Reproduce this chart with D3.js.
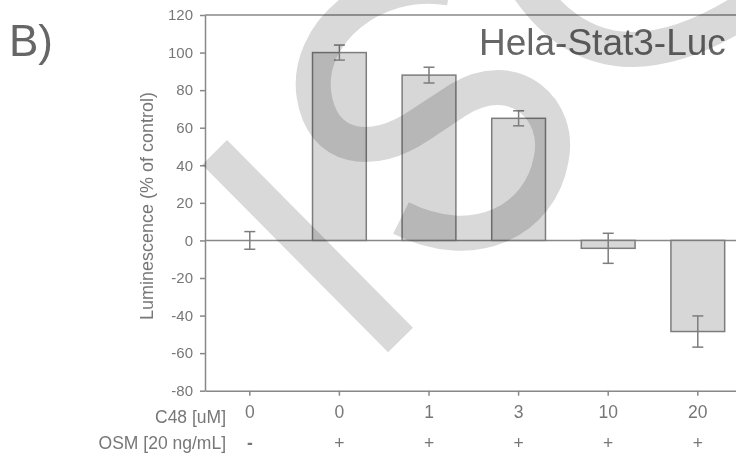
<!DOCTYPE html>
<html>
<head>
<meta charset="utf-8">
<script src="https://cdn.jsdelivr.net/npm/d3@7"></script>
<style>
  html, body { margin: 0; padding: 0; background: #fff; }
  svg { display: block; font-family: Arial, "Liberation Sans", sans-serif; }
</style>
</head>
<body>
<svg id="chart" width="736" height="456"></svg>
<script>
// ---- data ----
const c48Labels = ["0", "0", "1", "3", "10", "20"];
const osmLabels = ["-", "+", "+", "+", "+", "+"];
const values = [0, 100, 88, 65, -4.2, -48.5];
const errors = [4.7, 4, 4.2, 4, 8, 8.3];
const yTicks = [-80, -60, -40, -20, 0, 20, 40, 60, 80, 100, 120];
const yDomain = [-80, 120];
const rowLabels = ["C48 [uM]", "OSM [20 ng/mL]"];
const titleText = "Hela-Stat3-Luc";
const panelText = "B)";
const yLabelText = "Luminescence (% of control)";

// ---- layout ----
const svg = d3.select("#chart");
const plotL = 205, plotT = 15, plotB = 390.7, plotR = 742.6;
const axisColor = "#888", textColor = "#777";
const FONT = "Arial, 'Liberation Sans', sans-serif";

const x = d3.scaleBand()
  .domain(d3.range(values.length))
  .range([plotL, plotR])
  .paddingInner(0.4)
  .paddingOuter(0.2);

const y = d3.scaleLinear().domain(yDomain).range([plotB, plotT]);

// top frame line
svg.append("line")
  .attr("x1", plotL).attr("x2", plotR)
  .attr("y1", y(yDomain[1])).attr("y2", y(yDomain[1]))
  .attr("stroke", axisColor).attr("stroke-width", 1.5);

// zero line
svg.append("line")
  .attr("x1", plotL).attr("x2", plotR)
  .attr("y1", y(0)).attr("y2", y(0))
  .attr("stroke", axisColor).attr("stroke-width", 1.5);

// bars
svg.append("g").selectAll("rect")
  .data(values)
  .join("rect")
  .attr("x", (d, i) => x(i))
  .attr("width", x.bandwidth())
  .attr("y", d => y(Math.max(0, d)))
  .attr("height", d => Math.abs(y(d) - y(0)))
  .attr("fill", "#d7d7d7")
  .attr("stroke", "#7d7d7d")
  .attr("stroke-width", 1.5);

// error bars
const eg = svg.append("g").attr("stroke", "#7d7d7d").attr("stroke-width", 1.5).attr("fill", "none");
const cap = 5.5;
values.forEach((v, i) => {
  const cx = x(i) + x.bandwidth() / 2;
  const y1 = y(v + errors[i]), y2 = y(v - errors[i]);
  eg.append("line").attr("x1", cx).attr("x2", cx).attr("y1", y1).attr("y2", y2);
  eg.append("line").attr("x1", cx - cap).attr("x2", cx + cap).attr("y1", y1).attr("y2", y1);
  eg.append("line").attr("x1", cx - cap).attr("x2", cx + cap).attr("y1", y2).attr("y2", y2);
});

// y axis
const yAxis = svg.append("g")
  .attr("transform", `translate(${plotL},0)`)
  .call(d3.axisLeft(y).tickValues(yTicks).tickSize(5).tickSizeOuter(0).tickPadding(7)
    .tickFormat(d => String(d)));
yAxis.selectAll("path,line").attr("stroke", axisColor).attr("stroke-width", 1.5);
yAxis.selectAll("text").attr("fill", textColor).style("font-size", "15px").style("font-family", FONT);

// x axis
const xAxis = svg.append("g")
  .attr("transform", `translate(0,${plotB})`)
  .call(d3.axisBottom(x).tickSize(5).tickSizeOuter(0).tickPadding(10)
    .tickFormat(i => c48Labels[i]));
xAxis.selectAll("path,line").attr("stroke", axisColor).attr("stroke-width", 1.5);
xAxis.selectAll("text").attr("fill", textColor).style("font-size", "17.5px").style("font-family", FONT);

// OSM row
svg.append("g").selectAll("text")
  .data(osmLabels)
  .join("text")
  .attr("x", (d, i) => x(i) + x.bandwidth() / 2)
  .attr("y", 443)
  .attr("dy", "0.35em")
  .attr("text-anchor", "middle")
  .attr("fill", textColor)
  .style("font-size", "17.5px")
  .style("font-weight", d => d === "-" ? "bold" : "normal")
  .text(d => d);

// row labels
svg.append("g").selectAll("text")
  .data(rowLabels)
  .join("text")
  .attr("x", 226)
  .attr("y", (d, i) => i === 0 ? 416.5 : 443)
  .attr("dy", "0.35em")
  .attr("text-anchor", "end")
  .attr("fill", textColor)
  .style("font-size", "17.5px")
  .text(d => d);

// y label
svg.append("text")
  .attr("transform", "translate(147,206) rotate(-90)")
  .attr("text-anchor", "middle")
  .attr("dy", "0.35em")
  .attr("fill", textColor)
  .style("font-size", "18px")
  .text(yLabelText);

// title
svg.append("text")
  .attr("x", 479).attr("y", 55)
  .attr("fill", "#666")
  .style("font-size", "37px")
  .text(titleText);

// panel letter
svg.append("text")
  .attr("x", 9).attr("y", 56)
  .attr("fill", "#666")
  .style("font-size", "44px")
  .text(panelText);

// watermark overlay (decoration in the source image)
const wm = svg.append("g")
  .attr("fill", "none")
  .attr("stroke", "#d9d9d9")
  .attr("stroke-width", 35)
  .style("mix-blend-mode", "multiply");
wm.append("path").attr("d", "M214.6,152.4 L400.5,340");
wm.append("path").attr("d", "M450,-12 C372,-25 305,35 314,95 C322,150 372,158 420,125 L458,100 C515,65 562,110 551,160 C540,220 475,255 401,218");
wm.append("path").attr("d", "M528,-12 Q605,100 748,8");
</script>
</body>
</html>
